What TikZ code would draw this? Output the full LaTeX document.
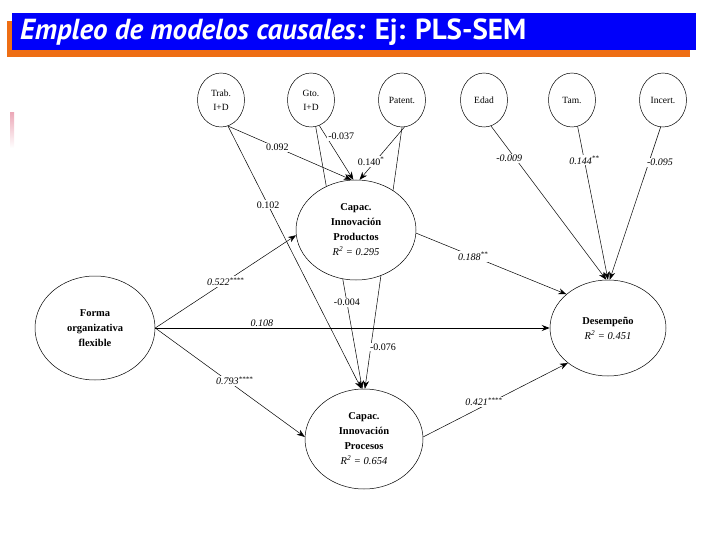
\documentclass[tikz,border=0pt]{standalone}
\usepackage{fontspec}
\setmainfont{Liberation Serif}
\newfontfamily\titulofont{PT Sans}
\usepackage{tikz}
\usetikzlibrary{arrows.meta,shapes.geometric,backgrounds}

\definecolor{azul}{RGB}{0,0,250}
\definecolor{naranja}{RGB}{238,110,20}
\definecolor{rosa}{RGB}{236,170,185}

\begin{document}
\begin{tikzpicture}[
    x=1pt, y=-1pt,
    font=\fontsize{9}{10}\selectfont,
    var/.style={draw, ellipse, line width=0.5pt, fill=white, inner sep=0pt,
                minimum width=47pt, minimum height=54pt, align=center,
                font=\fontsize{9.5}{14}\selectfont},
    lat/.style={draw, ellipse, line width=0.5pt, fill=white, inner sep=0pt,
                align=center, font=\fontsize{10.5}{15}\selectfont\bfseries},
    flecha/.style={-{Stealth[length=8pt,width=6pt]}, line width=0.5pt},
    etiq/.style={fill=white, inner sep=1pt, font=\fontsize{10}{11}\selectfont},
    etiqit/.style={etiq, font=\fontsize{10}{11}\selectfont\itshape}
  ]
    \useasboundingbox (0,0) rectangle (720,540);

    % barra del titulo
    \fill[naranja] (7,21) rectangle (690,57);
    \fill[azul] (12,13) rectangle (696,50);
    \node[anchor=west, text=white, inner sep=0pt,
          font=\titulofont\fontsize{29}{30}\selectfont\bfseries] (titulo) at (20,32)
         {\itshape Empleo de modelos causales: \upshape Ej: PLS-SEM};
    \shade[top color=rosa, bottom color=white] (10,113) rectangle (14,148);

    % variables de control
    \node[var] (trab)   at (221,100) {Trab.\\I+D};
    \node[var] (gto)    at (311,100) {Gto.\\I+D};
    \node[var] (patent) at (402,100) {Patent.};
    \node[var] (edad)   at (484,100) {Edad};
    \node[var] (tam)    at (572,100) {Tam.};
    \node[var] (incert) at (663,100) {Incert.};

    % constructos
    \node[lat, minimum width=120pt, minimum height=104pt] (forma) at (95,328)
         {Forma\\organizativa\\flexible};
    \node[lat, minimum width=120pt, minimum height=100pt] (prod) at (356,230)
         {Capac.\\Innovación\\Productos\\{\normalfont\itshape R\textsuperscript{2} = 0.295}};
    \node[lat, minimum width=118pt, minimum height=100pt] (proc) at (364,439)
         {Capac.\\Innovación\\Procesos\\{\normalfont\itshape R\textsuperscript{2} = 0.654}};
    \node[lat, minimum width=116pt, minimum height=96pt] (desemp) at (608,328)
         {Desempeño\\{\normalfont\itshape R\textsuperscript{2} = 0.451}};

    % caminos que pasan por detras de Productos
    \begin{scope}[on background layer]
      \draw[flecha] (gto.-80) -- node[etiq, pos=0.67] (e004) {-0.004} (proc.92);
      \draw[flecha] (patent.-90) -- node[etiq, pos=0.84, anchor=west, xshift=-2pt] (e076) {-0.076} (proc.89);
    \end{scope}

    \draw[flecha] (trab.-75) -- node[etiq, pos=0.4] (e092) {0.092} (prod.95);
    \draw[flecha] (trab.-75) -- node[etiq, pos=0.3] (e102) {0.102} (proc.93);
    \draw[flecha] (gto.-72) -- node[etiq, pos=0.2, anchor=west, xshift=1pt] (e037) {-0.037} (prod.93);
    \draw[flecha] (patent.-85) -- node[etiq, pos=0.65, xshift=-4pt] (e140) {0.140\textsuperscript{*}} (prod.86);

    \draw[flecha] (edad.-75) -- node[etiqit, pos=0.21, xshift=-6pt] (e009) {-0.009} (desemp.92);
    \draw[flecha] (tam.-78) -- node[etiqit, pos=0.22] (e144) {0.144\textsuperscript{**}} (desemp.90);
    \draw[flecha] (incert.-95) -- node[etiqit, pos=0.23, anchor=west, xshift=-3pt] (e095) {-0.095} (desemp.88);

    \draw[flecha] (prod.-3) -- node[etiqit, pos=0.38] (e188) {0.188\textsuperscript{**}} (desemp.141);
    \draw[flecha] (forma.east) -- node[etiqit, pos=0.5] (e522) {0.522\textsuperscript{****}} (prod.185);
    \draw[flecha, line width=1pt] (forma.east) -- node[etiqit, pos=0.27, above, fill=none, inner sep=0.5pt] (e108) {0.108} (desemp.west);
    \draw[flecha] (forma.east) -- node[etiqit, pos=0.53, yshift=5pt] (e793) {0.793\textsuperscript{****}} (proc.178);
    \draw[flecha] (proc.2) -- node[etiqit, pos=0.42, yshift=4pt] (e421) {0.421\textsuperscript{****}} (desemp.221);
  \end{tikzpicture}
\end{document}
